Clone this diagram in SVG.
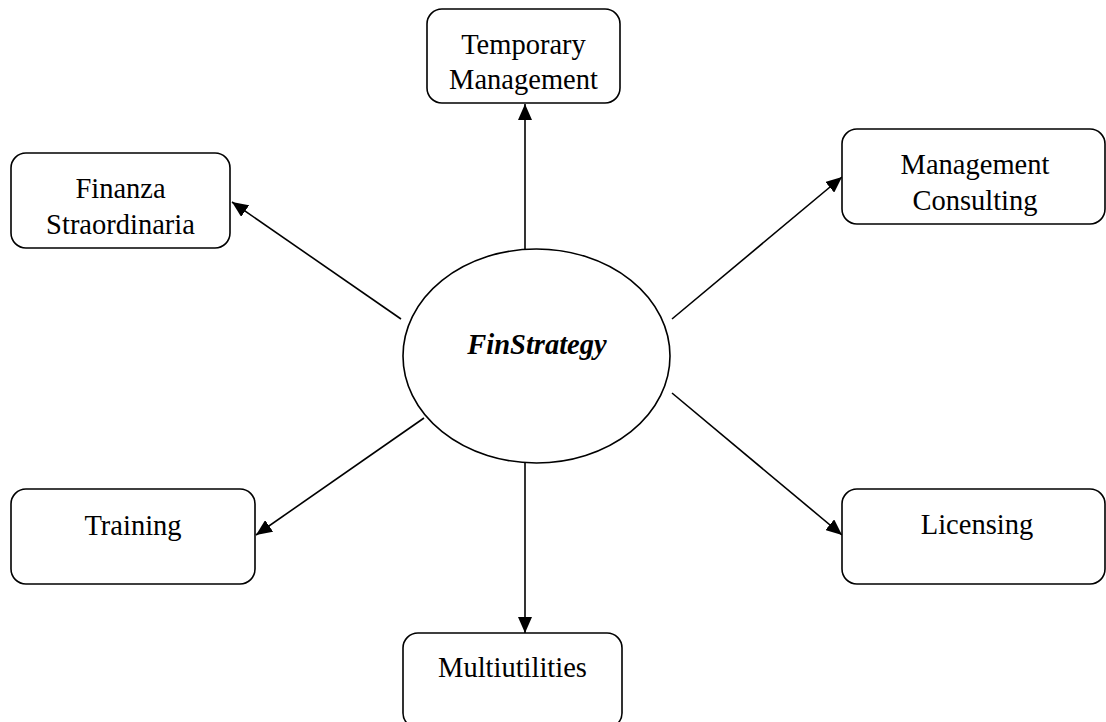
<svg xmlns="http://www.w3.org/2000/svg" width="1106" height="722" viewBox="0 0 1106 722">
<style>
.box{fill:#fff;stroke:#000;stroke-width:1.6}
.t{font-size:28.5px;fill:#000;text-anchor:middle}
.c{stroke:#000;stroke-width:1.6;fill:none;marker-end:url(#ah)}
</style>
<defs>
<marker id="ah" viewBox="0 0 16 14" refX="16" refY="7" markerWidth="16" markerHeight="14" markerUnits="userSpaceOnUse" orient="auto">
<path d="M0,0 L16,7 L0,14 Z" fill="#000"/>
</marker>
</defs>
<rect width="1106" height="722" fill="#fff"/>
<g id="connectors">
<line class="c" x1="525" y1="249" x2="525" y2="104"/>
<line class="c" x1="401" y1="319" x2="232" y2="202"/>
<line class="c" x1="672" y1="319" x2="842" y2="177"/>
<line class="c" x1="424" y1="418" x2="256" y2="535"/>
<line class="c" x1="672" y1="393" x2="842" y2="535"/>
<line class="c" x1="525" y1="463" x2="525" y2="633"/>
</g>
<g font-family="'Liberation Serif', 'Times New Roman', 'DejaVu Serif', serif">
<g id="center">
<ellipse class="box" cx="536.5" cy="356" rx="133.5" ry="107"/>
<text class="t" x="537" y="354" font-weight="bold" font-style="italic">FinStrategy</text>
</g>
<g id="temporary">
<rect class="box" x="427" y="9" width="193" height="94" rx="15"/>
<text class="t" x="523.5" y="54">Temporary</text>
<text class="t" x="523.5" y="89">Management</text>
</g>
<g id="finanza">
<rect class="box" x="11" y="153" width="219" height="95" rx="15"/>
<text class="t" x="120.5" y="198">Finanza</text>
<text class="t" x="120.5" y="234">Straordinaria</text>
</g>
<g id="consulting">
<rect class="box" x="842" y="129" width="263" height="95" rx="15"/>
<text class="t" x="975" y="174">Management</text>
<text class="t" x="975" y="210">Consulting</text>
</g>
<g id="training">
<rect class="box" x="11" y="489" width="244" height="95" rx="15"/>
<text class="t" x="133" y="535">Training</text>
</g>
<g id="licensing">
<rect class="box" x="842" y="489" width="263" height="95" rx="15"/>
<text class="t" x="977" y="534">Licensing</text>
</g>
<g id="multiutilities">
<rect class="box" x="403" y="633" width="219" height="95" rx="15"/>
<text class="t" x="512.5" y="677">Multiutilities</text>
</g>
</g>
</svg>
